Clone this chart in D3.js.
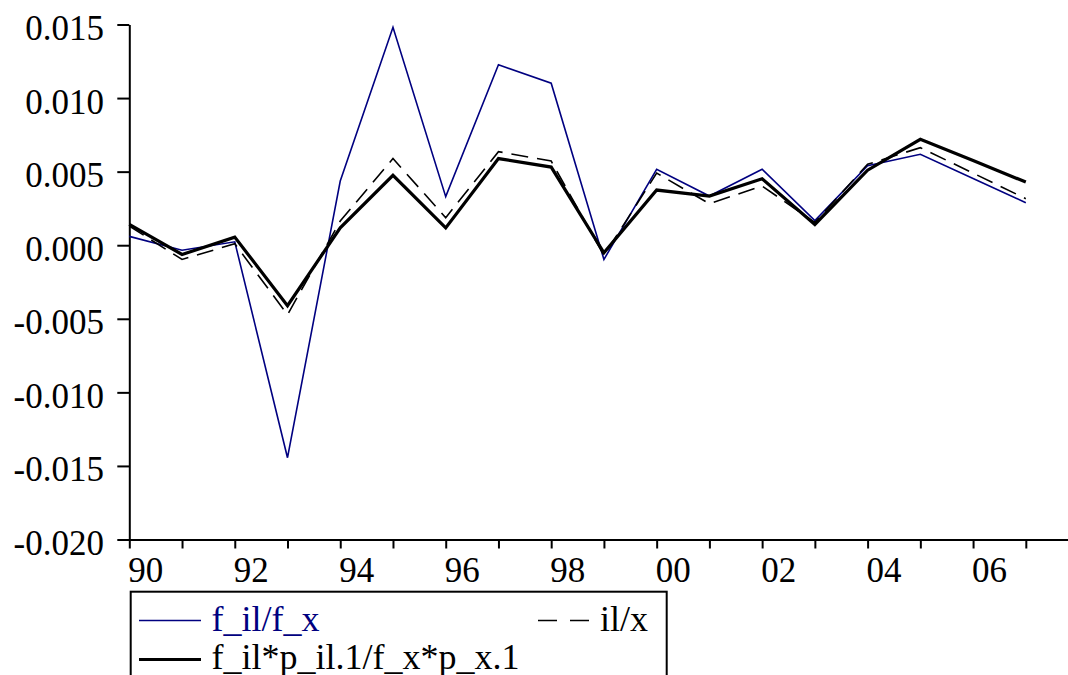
<!DOCTYPE html>
<html>
<head>
<meta charset="utf-8">
<script src="https://cdn.jsdelivr.net/npm/d3@7"></script>
</head>
<body style="margin:0">
<svg id="chart" width="1068" height="675"></svg>
<script>
const years = [1990, 1991, 1992, 1993, 1994, 1995, 1996, 1997, 1998, 1999, 2000, 2001, 2002, 2003, 2004, 2005, 2006, 2007];
const fIlFx = [0.0006, -0.00034, 0.00023, -0.01444, 0.00436, 0.01481, 0.0033, 0.01226, 0.01101, -0.00097, 0.00516, 0.00334, 0.00516, 0.00168, 0.0054, 0.00618, 0.00454, 0.00289];
const ilX = [0.0013, -0.00097, 0.0001, -0.00472, 0.00164, 0.00589, 0.00187, 0.00636, 0.00572, -0.0007, 0.0049, 0.00282, 0.00402, 0.00155, 0.0055, 0.00663, 0.0049, 0.00316];
const fReal = [0.00141, -0.00063, 0.00055, -0.00411, 0.00118, 0.00475, 0.00118, 0.00589, 0.00531, -0.00052, 0.00375, 0.00334, 0.00452, 0.00141, 0.0051, 0.0072, 0.00575, 0.00429];
const yTickValues = [-0.020, -0.015, -0.010, -0.005, 0.000, 0.005, 0.010, 0.015];
const yTickLabels = ["-0.020", "-0.015", "-0.010", "-0.005", "0.000", "0.005", "0.010", "0.015"];
const xTickLabels = ["90", "", "92", "", "94", "", "96", "", "98", "", "00", "", "02", "", "04", "", "06", ""];
const seriesNames = ["f_il/f_x", "il/x", "f_il*p_il.1/f_x*p_x.1"];

const svg = d3.select("#chart");
const x = d3.scaleLinear().domain([1990, 2007.8]).range([129.3, 1068]);
const y = d3.scaleLinear().domain([-0.02, 0.015]).range([539.5, 24.5]);

function label(px, py, str, color, anchor, size) {
  svg.append("text")
    .attr("x", px).attr("y", py)
    .attr("text-anchor", anchor || "start")
    .attr("fill", color || "#000")
    .style("font-family", "'Liberation Serif'")
    .style("font-size", (size || 35) + "px")
    .text(str);
}

// Y axis
const gy = svg.append("g").attr("transform", "translate(129.3,0)")
  .call(d3.axisLeft(y).tickValues(yTickValues).tickFormat("").tickSize(12).tickSizeOuter(0));
gy.select(".domain").attr("stroke", "#000").attr("stroke-width", 2);
gy.selectAll(".tick line").attr("stroke", "#000").attr("stroke-width", 2);
gy.selectAll("text").remove();

// X axis
const gx = svg.append("g").attr("transform", "translate(0,539.5)")
  .call(d3.axisBottom(x).tickValues(years).tickFormat("").tickSize(9).tickSizeOuter(0));
gx.select(".domain").attr("stroke", "#000").attr("stroke-width", 2);
gx.selectAll(".tick line").attr("stroke", "#000").attr("stroke-width", 2);
gx.selectAll("text").remove();

// Lines
const line = d3.line().x((d, i) => x(years[i])).y(d => y(d));
svg.append("path").datum(fIlFx).attr("d", line)
  .attr("fill", "none").attr("stroke", "#000080").attr("stroke-width", 1.6);
svg.append("path").datum(ilX).attr("d", line)
  .attr("fill", "none").attr("stroke", "#000").attr("stroke-width", 1.6)
  .attr("stroke-dasharray", "17,9");
svg.append("path").datum(fReal).attr("d", line)
  .attr("fill", "none").attr("stroke", "#000").attr("stroke-width", 3.2);

// Legend box and samples
svg.append("rect").attr("x", 130.7).attr("y", 591.7).attr("width", 536).attr("height", 120)
  .attr("fill", "none").attr("stroke", "#000").attr("stroke-width", 2);
svg.append("line").attr("x1", 139).attr("x2", 201).attr("y1", 620.5).attr("y2", 620.5)
  .attr("stroke", "#000080").attr("stroke-width", 1.6);
svg.append("line").attr("x1", 538).attr("x2", 590).attr("y1", 620.5).attr("y2", 620.5)
  .attr("stroke", "#000").attr("stroke-width", 1.6).attr("stroke-dasharray", "19,13");
svg.append("line").attr("x1", 139).attr("x2", 201).attr("y1", 659.5).attr("y2", 659.5)
  .attr("stroke", "#000").attr("stroke-width", 3.2);

// Texts
yTickValues.forEach((v, i) => label(104, y(v) + 15.5, yTickLabels[i], "#000", "end", 35));
years.forEach((yr, i) => { if (xTickLabels[i]) label(x(yr) - 1, 581.5, xTickLabels[i], "#000", "start", 35); });
label(211.5, 630.5, seriesNames[0], "#000080", "start", 36);
label(600, 630.5, seriesNames[1], "#000", "start", 36);
label(211.5, 668.5, seriesNames[2], "#000", "start", 36);
</script>
</body>
</html>
